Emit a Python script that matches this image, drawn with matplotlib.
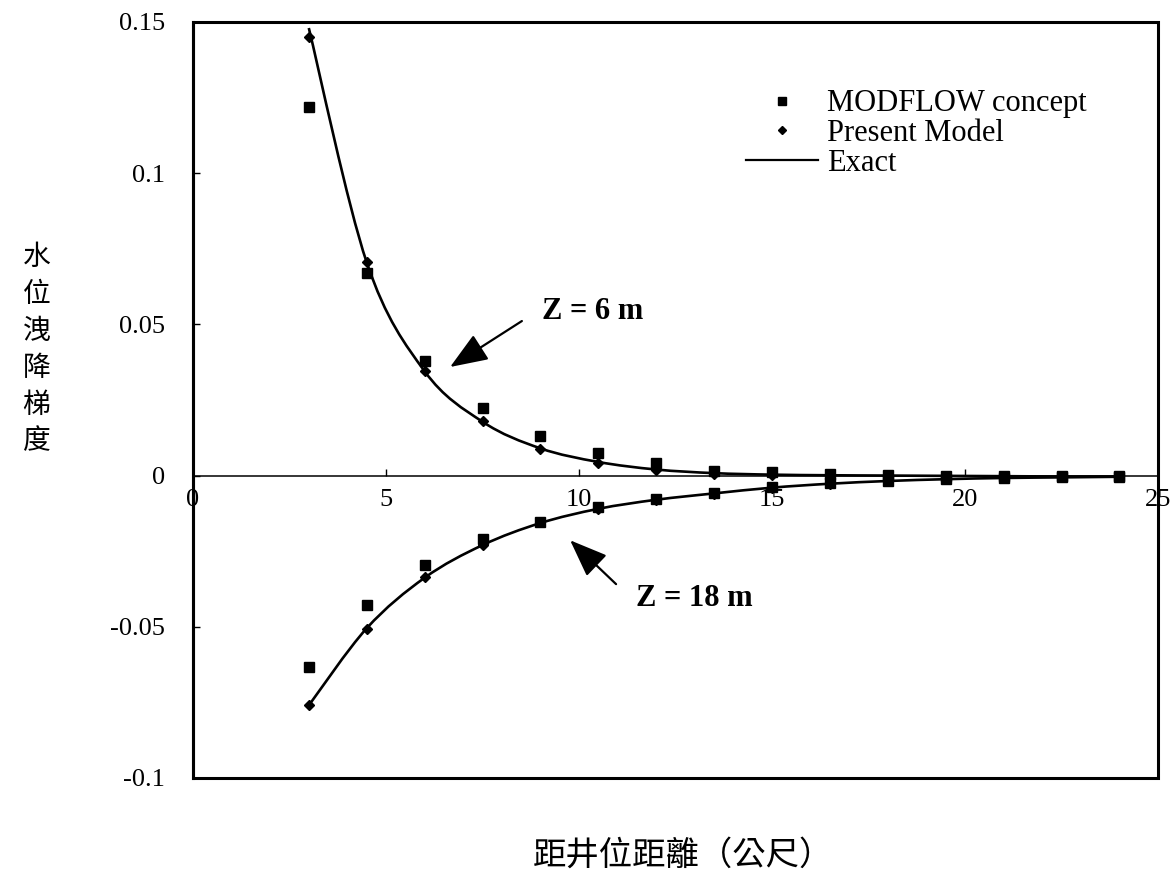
## --- DRAWDOWN GRADIENT VS DISTANCE FROM WELL --- ##
import matplotlib
matplotlib.use('Agg')
import matplotlib.pyplot as plt
import numpy as np
from matplotlib.path import Path
from matplotlib.patches import PathPatch, Rectangle
from matplotlib.lines import Line2D

# -- DATA -- #
dist = [3, 4.5, 6, 7.5, 9, 10.5, 12, 13.5, 15, 16.5, 18, 19.5, 21, 22.5, 24]

# Z = 6 m
modflow_z6 = [0.122, 0.067, 0.038, 0.0223, 0.0130, 0.0073, 0.0040, 0.0016, 0.0013,
              0.0005, 0.0003, 0.0000, -0.0002, -0.0003, -0.0003]
present_z6 = [0.145, 0.0705, 0.0347, 0.0180, 0.0089, 0.0043, 0.0017, 0.0005, 0.0003,
              0.0001, 0.0000, -0.0001, -0.0002, -0.0003, -0.0003]
exact_z6 = [0.148, 0.0705, 0.0345, 0.0178, 0.0090, 0.0045, 0.0020, 0.0008, 0.0003,
            0.0001, 0.0000, -0.0001, -0.0002, -0.0003, -0.0003]

# Z = 18 m
modflow_z18 = [-0.0633, -0.0428, -0.0297, -0.0210, -0.0152, -0.0103, -0.0078, -0.0058,
               -0.0038, -0.0025, -0.0017, -0.0010, -0.0007, -0.0005, -0.0004]
present_z18 = [-0.0758, -0.0507, -0.0336, -0.0230, -0.0155, -0.0110, -0.0082, -0.0060,
               -0.0040, -0.0027, -0.0018, -0.0011, -0.0008, -0.0006, -0.0005]
exact_z18 = [-0.0760, -0.0505, -0.0338, -0.0230, -0.0157, -0.0110, -0.0080, -0.0059,
             -0.0040, -0.0027, -0.0018, -0.0012, -0.0008, -0.0006, -0.0004]

xticks = [0, 5, 10, 15, 20, 25]
yticks = [-0.1, -0.05, 0, 0.05, 0.1, 0.15]
ytick_labels = ['-0.1', '-0.05', '0', '0.05', '0.1', '0.15']

SERIF = 'Liberation Serif'
CJK = ['Noto Sans CJK TC', 'DejaVu Sans']


def smooth_path(xs, ys):
    """ Catmull-Rom style bezier through the points (like a smoothed spreadsheet line) """
    pts = np.column_stack([xs, ys]).astype(float)
    n = len(pts)
    verts = [pts[0]]
    codes = [Path.MOVETO]
    for i in range(n - 1):
        p0 = pts[i - 1] if i > 0 else pts[i]
        p1 = pts[i]
        p2 = pts[i + 1]
        p3 = pts[i + 2] if i + 2 < n else pts[i + 1]
        c1 = p1 + (p2 - p0) / 6.0
        c2 = p2 - (p3 - p1) / 6.0
        verts += [c1, c2, p2]
        codes += [Path.CURVE4] * 3
    return Path(verts, codes)


def arrow(ax, tail, head):
    ax.annotate('', xy=head, xytext=tail,
                arrowprops=dict(arrowstyle='-|>,head_length=0.9,head_width=0.35',
                                color='black', lw=1.6, mutation_scale=26,
                                shrinkA=0, shrinkB=0))


fig = plt.figure(figsize=(11.74, 8.75), dpi=100)
ax = fig.add_axes([0.1644, 0.1109, 0.8220, 0.8640])

# -- EXACT CURVES -- #
for ys in (exact_z6, exact_z18):
    ax.add_patch(PathPatch(smooth_path(dist, ys), fill=False, edgecolor='black',
                           linewidth=1.9, zorder=3))

# -- MODEL POINTS -- #
for ys in (modflow_z6, modflow_z18):
    ax.plot(dist, ys, linestyle='none', marker='s', markersize=7.5,
            color='black', zorder=4)
for ys in (present_z6, present_z18):
    ax.plot(dist, ys, linestyle='none', marker='D', markersize=5.5,
            color='black', zorder=5)

# -- AXES -- #
ax.set_xlim(0, 25)
ax.set_ylim(-0.1, 0.15)
ax.spines['bottom'].set_position(('data', 0))
ax.spines['bottom'].set_linewidth(1.1)
ax.spines['top'].set_visible(False)
ax.spines['right'].set_visible(False)
ax.spines['left'].set_linewidth(2.2)
ax.add_patch(Rectangle((0, 0), 1, 1, transform=ax.transAxes, fill=False,
                       edgecolor='black', linewidth=2.2, clip_on=False, zorder=6))

ax.set_xticks(xticks)
ax.set_xticklabels([str(t) for t in xticks], fontfamily=SERIF, fontsize=19)
ax.set_yticks(yticks)
ax.set_yticklabels(ytick_labels, fontfamily=SERIF, fontsize=19)
ax.tick_params(axis='x', direction='in', length=5, width=1, pad=10)
ax.tick_params(axis='y', direction='in', length=5, width=1, pad=20)

# -- AXIS TITLES -- #
fig.text(0.031, 0.601, '\n'.join('水位洩降梯度'), family=CJK, fontsize=20,
         ha='center', va='center', linespacing=1.3)
fig.text(0.582, 0.003, '距井位距離（公尺）', family=CJK, fontsize=24,
         ha='center', va='bottom')

# -- CURVE LABELS -- #
ax.text(10.36, 0.0544, 'Z = 6 m', fontfamily=SERIF, fontsize=22,
        fontweight='bold', ha='center', va='center')
arrow(ax, (8.52, 0.0511), (6.66, 0.0359))
ax.text(12.98, -0.0405, 'Z = 18 m', fontfamily=SERIF, fontsize=22,
        fontweight='bold', ha='center', va='center')
arrow(ax, (10.96, -0.0359), (9.77, -0.0214))

# -- LEGEND -- #
handles = [Line2D([], [], linestyle='none', marker='s', markersize=6, color='black'),
           Line2D([], [], linestyle='none', marker='D', markersize=4.5, color='black'),
           Line2D([], [], color='black', linewidth=1.6)]
labels = ['MODFLOW concept', 'Present Model', 'Exact']
ax.legend(handles, labels, loc='upper left', bbox_to_anchor=(0.573, 0.911),
          frameon=False, prop={'family': SERIF, 'size': 22}, handlelength=2.35,
          handletextpad=0.3, labelspacing=0.03, borderpad=0, borderaxespad=0)

fig.savefig('out.png', dpi=100, facecolor='white')
